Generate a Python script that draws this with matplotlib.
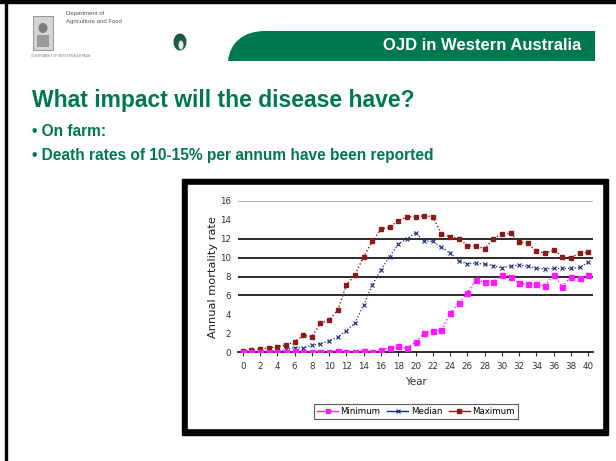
import matplotlib.pyplot as plt
from matplotlib.patches import Rectangle, PathPatch, Ellipse
from matplotlib.path import Path
from matplotlib.lines import Line2D

# data (annual mortality rate, %)
years = list(range(41))
minimum = [0, 0.05, 0.08, 0, 0.05, 0, 0.1, 0.05, 0.05, 0.05,
           0.06, 0.17, 0.06, 0.06, 0.17, 0.06, 0.24, 0.48, 0.66, 0.42,
           1.12, 2.0, 2.25, 2.32, 4.1, 5.2, 6.3, 7.65, 7.4, 7.4,
           8.2, 8.0, 7.3, 7.2, 7.2, 7.0, 8.2, 6.9, 8.0, 7.8, 8.2]
median = [0, 0, 0.1, 0.1, 0.15, 0.3, 0.5, 0.45, 0.75, 0.9,
          1.2, 1.6, 2.3, 3.1, 5.0, 7.1, 8.7, 10.1, 11.4, 12.0,
          12.6, 11.75, 11.7, 11.1, 10.5, 9.65, 9.35, 9.4, 9.3, 9.15,
          8.9, 9.1, 9.2, 9.1, 8.85, 8.8, 8.85, 8.85, 8.85, 8.95, 9.5]
maximum = [0.1, 0.2, 0.35, 0.45, 0.6, 0.77, 1.1, 1.8, 1.65, 3.05,
           3.4, 4.46, 7.1, 8.2, 10.1, 11.7, 13.0, 13.2, 13.9, 14.3,
           14.3, 14.4, 14.3, 12.48, 12.2, 12.0, 11.25, 11.25, 10.9, 12.0,
           12.5, 12.55, 11.67, 11.5, 10.7, 10.45, 10.8, 10.1, 10.0, 10.45, 10.55]
series_names = ["Minimum", "Median", "Maximum"]
x_ticks = list(range(0, 41, 2))
y_ticks = list(range(0, 17, 2))
grid_levels = [6, 8, 10, 12]

W, H = 616, 461
GREEN = "#00784f"


def fx(px):
    return px / W


def fy(py):
    return 1 - py / H


fig = plt.figure(figsize=(6.16, 4.61), dpi=100)
fig.patch.set_facecolor("white")

# slide frame (left and top edges)
fig.patches.append(Rectangle((fx(5), 0), fx(2), 1, transform=fig.transFigure,
                             color="black", zorder=0))
fig.patches.append(Rectangle((0, fy(3)), 1, 3 / H, transform=fig.transFigure,
                             color="black", zorder=0))

# logo block: crest, department name, small round emblem
fig.patches.append(Rectangle((fx(33), fy(50)), fx(20), 34 / H, transform=fig.transFigure,
                             facecolor="#d4d4d4", edgecolor="#8a8a8a", lw=0.6))
fig.patches.append(Ellipse((fx(43), fy(28)), fx(9), 10 / H, transform=fig.transFigure,
                           facecolor="#7d7d7d", edgecolor="none"))
fig.patches.append(Rectangle((fx(37), fy(47)), fx(12), 12 / H, transform=fig.transFigure,
                             facecolor="#9a9a9a", edgecolor="none"))
fig.text(fx(66), fy(14), "Department of", fontsize=4.3, color="#555555",
         va="center", family="Liberation Sans")
fig.text(fx(66), fy(21), "Agriculture and Food", fontsize=4.3, color="#555555",
         va="center", family="Liberation Sans")
fig.text(fx(31), fy(56), "GOVERNMENT OF WESTERN AUSTRALIA", fontsize=2.2,
         color="#777777", va="center", family="Liberation Sans")
fig.patches.append(Ellipse((fx(180), fy(42)), fx(13), 17 / H, transform=fig.transFigure,
                           facecolor="#1b5a45", edgecolor="none"))
fig.patches.append(Ellipse((fx(181), fy(45)), fx(5), 9 / H, transform=fig.transFigure,
                           facecolor="#e8e8e8", edgecolor="none"))

# green header banner with rounded left edge
pts = [(228, 61), (230, 42), (244, 31), (265, 31), (595, 31), (595, 61), (228, 61)]
codes = [Path.MOVETO, Path.CURVE4, Path.CURVE4, Path.CURVE4,
         Path.LINETO, Path.LINETO, Path.CLOSEPOLY]
banner = Path([(fx(a), fy(b)) for a, b in pts], codes)
fig.patches.append(PathPatch(banner, transform=fig.transFigure,
                             facecolor=GREEN, edgecolor="none"))
fig.text(fx(581), fy(46), "OJD in Western Australia", color="white", fontsize=12,
         fontweight="bold", ha="right", va="center", family="Liberation Sans")

# slide title and bullets
fig.text(fx(32), fy(101), "What impact will the disease have?", color=GREEN,
         fontsize=16.5, fontweight="bold", va="center", family="Liberation Sans")
fig.text(fx(32), fy(132), "\u2022 On farm:", color=GREEN, fontsize=11.2,
         fontweight="bold", va="center", family="Liberation Sans")
fig.text(fx(32), fy(155), "\u2022 Death rates of 10-15% per annum have been reported",
         color=GREEN, fontsize=11.2, fontweight="bold", va="center",
         family="Liberation Sans")

# pasted chart picture: thick black frame
fig.patches.append(Rectangle((fx(182), fy(435)), fx(608 - 182), (435 - 179) / H,
                             transform=fig.transFigure, color="black", zorder=1))
fig.patches.append(Rectangle((fx(188), fy(428)), fx(602 - 188), (428 - 185) / H,
                             transform=fig.transFigure, color="white", zorder=1))

ax = fig.add_axes([fx(238), fy(352.3), fx(593 - 238), (352.3 - 200.7) / H], zorder=2)
ax.set_facecolor("none")

ax.plot(years, minimum, color="#ff1aff", lw=1, ls=":", marker="s", ms=3.6,
        mec="#ff1aff", mfc="#ff1aff", zorder=4)
ax.plot(years, median, color="#1a2a7a", lw=0.9, ls=":", marker="x", ms=3,
        mew=0.8, zorder=3)
ax.plot(years, maximum, color="#8b1a1a", lw=1, ls=":", marker="s", ms=3.2,
        zorder=3)

for lvl in grid_levels:
    ax.axhline(lvl, color="#1a1a1a", lw=1.3, zorder=1)
ax.axhline(16, color="#aaaaaa", lw=1.3, zorder=1)

ax.set_xlim(-0.55, 40.55)
ax.set_ylim(0, 16)
ax.set_xticks(x_ticks)
ax.set_yticks(y_ticks)
ax.tick_params(axis="x", direction="out", length=3, width=0.8, color="#333333",
               labelsize=6.3, labelcolor="#333333", pad=4)
ax.tick_params(axis="y", length=0, labelsize=6.3, labelcolor="#333333", pad=5)
for side in ["left", "right", "top"]:
    ax.spines[side].set_visible(False)
ax.spines["bottom"].set_color("#1a1a1a")
ax.spines["bottom"].set_linewidth(1.3)

ax.set_xlabel("Year", fontsize=7.4, color="#333333", labelpad=4)
fig.text(fx(213), fy(277), "Annual mortality rate", rotation=90, fontsize=8.2,
         color="#222222", ha="center", va="center", zorder=3)

handles = [
    Line2D([], [], color="#ff1aff", lw=1, marker="s", ms=3),
    Line2D([], [], color="#1a2a7a", lw=1, marker="x", ms=3, mew=0.8),
    Line2D([], [], color="#8b1a1a", lw=1, marker="s", ms=3),
]
leg = fig.legend(handles, series_names, loc="center", ncol=3,
                 bbox_to_anchor=(fx(416), fy(411.5)), fontsize=6.2,
                 frameon=True, fancybox=False, handlelength=2.4,
                 handletextpad=0.3, columnspacing=0.8, borderpad=0.35)
leg.get_frame().set_edgecolor("#333333")
leg.get_frame().set_linewidth(0.8)
leg.set_zorder(3)

fig.savefig("out.png", dpi=100)
